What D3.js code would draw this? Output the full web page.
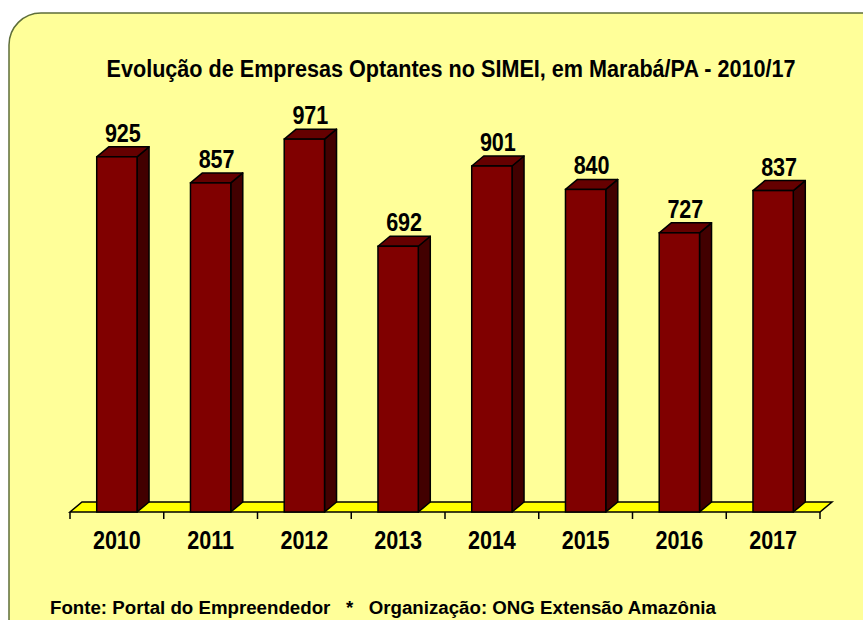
<!DOCTYPE html>
<html>
<head>
<meta charset="utf-8">
<script src="https://cdn.jsdelivr.net/npm/d3@7"></script>
<style>
  body { margin: 0; background: #fff; }
  svg { display: block; }
</style>
</head>
<body>
<svg id="chart" width="863" height="620"></svg>
<script>
// data
const years = ["2010", "2011", "2012", "2013", "2014", "2015", "2016", "2017"];
const empresas = [925, 857, 971, 692, 901, 840, 727, 837];
const title = "Evolução de Empresas Optantes no SIMEI, em Marabá/PA - 2010/17";
const footer = "Fonte: Portal do Empreendedor   *   Organização: ONG Extensão Amazônia";

const svg = d3.select("#chart");
const sans = "Arial, 'Liberation Sans', sans-serif";
const squeeze = 0.83; // no narrow font installed, so squash horizontally

// rounded panel (runs off the right and bottom edges)
svg.append("rect")
  .attr("x", 9).attr("y", 13)
  .attr("width", 900).attr("height", 660)
  .attr("rx", 32)
  .style("fill", "#ffff99")
  .style("stroke", "#5e6e3a")
  .style("stroke-width", 1.5);

svg.append("text")
  .attr("transform", "translate(451,77) scale(0.9,1)")
  .attr("text-anchor", "middle")
  .style("font-family", sans)
  .style("font-weight", "bold")
  .style("font-size", "24px")
  .text(title);

// plot area
const x0 = 70, x1 = 820, base = 512;
const dx = 12, dy = -10; // 3d depth offset

const x = d3.scaleBand().domain(years).range([x0, x1]).paddingInner(0.57).paddingOuter(0.285);
const y = d3.scaleLinear().domain([0, 1000]).range([base, 128]);

// floor
svg.append("path")
  .attr("d", `M${x0},${base}L${x1},${base}L${x1 + dx},${base + dy}L${x0 + dx},${base + dy}Z`)
  .style("fill", "#ffff00")
  .style("stroke", "#000")
  .style("stroke-width", 1.5);

// ticks on category boundaries
const step = (x1 - x0) / years.length;
svg.append("g").selectAll("line")
  .data(d3.range(years.length + 1))
  .join("line")
  .attr("x1", i => x0 + i * step).attr("x2", i => x0 + i * step)
  .attr("y1", base).attr("y2", base + 7)
  .style("stroke", "#000")
  .style("stroke-width", 1.5);

// bars
const bars = svg.append("g").selectAll("g")
  .data(years.map((yr, i) => ({ yr, v: empresas[i] })))
  .join("g");

const bw = x.bandwidth();

bars.append("path") // side
  .attr("d", d => {
    const r = x(d.yr) + bw, t = y(d.v);
    return `M${r},${base}L${r},${t}L${r + dx},${t + dy}L${r + dx},${base + dy}Z`;
  })
  .style("fill", "#420000")
  .style("stroke", "#000")
  .style("stroke-width", 1.5)
  .style("stroke-linejoin", "round");

bars.append("path") // top
  .attr("d", d => {
    const l = x(d.yr), r = l + bw, t = y(d.v);
    return `M${l},${t}L${r},${t}L${r + dx},${t + dy}L${l + dx},${t + dy}Z`;
  })
  .style("fill", "#650000")
  .style("stroke", "#000")
  .style("stroke-width", 1.5)
  .style("stroke-linejoin", "round");

bars.append("rect") // front
  .attr("x", d => x(d.yr))
  .attr("y", d => y(d.v))
  .attr("width", bw)
  .attr("height", d => base - y(d.v))
  .style("fill", "#800000")
  .style("stroke", "#000")
  .style("stroke-width", 1.5);

bars.append("text")
  .attr("transform", d => `translate(${x(d.yr) + bw / 2 + dx / 2},${y(d.v) + dy - 5}) scale(${squeeze},1)`)
  .attr("text-anchor", "middle")
  .style("font-family", sans)
  .style("font-weight", "bold")
  .style("font-size", "26px")
  .text(d => d.v);

// year labels
svg.append("g").selectAll("text")
  .data(years)
  .join("text")
  .attr("transform", d => `translate(${x(d) + bw / 2},549) scale(${squeeze},1)`)
  .attr("text-anchor", "middle")
  .style("font-family", sans)
  .style("font-weight", "bold")
  .style("font-size", "26px")
  .text(d => d);

svg.append("text")
  .attr("x", 50).attr("y", 614)
  .attr("xml:space", "preserve")
  .style("font-family", sans)
  .style("font-weight", "bold")
  .style("font-size", "18.7px")
  .style("white-space", "pre")
  .text(footer);
</script>
</body>
</html>
